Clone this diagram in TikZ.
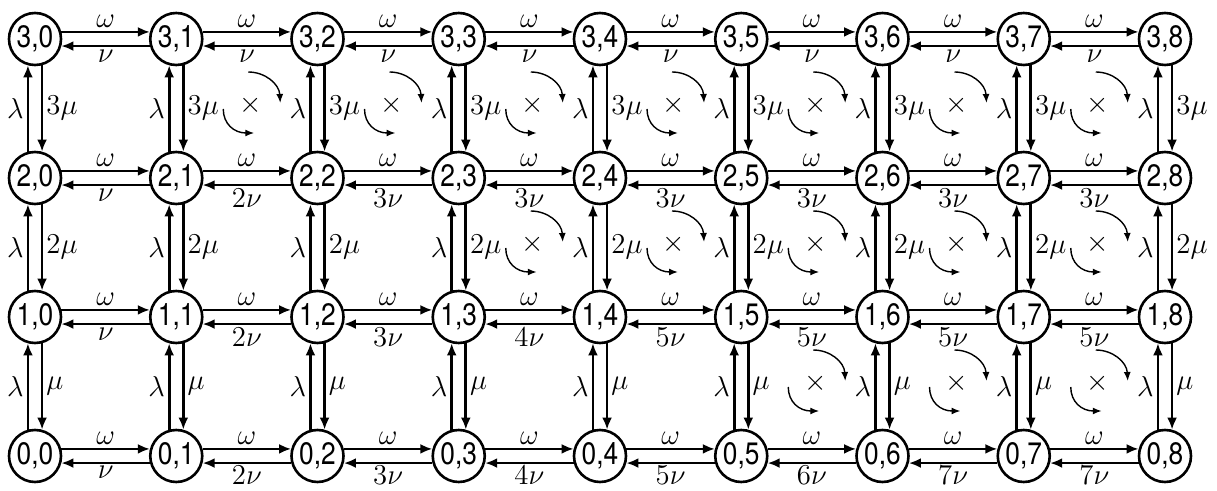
\documentclass[tikz,border=0pt]{standalone}
\usepackage{fontspec}
\newfontfamily\nodefont[FakeStretch=0.85]{TeX Gyre Heros}
\usetikzlibrary{arrows.meta,calc}
\begin{document}
\begin{tikzpicture}[x=0.5pt,y=-0.5pt,
  state/.style={circle,draw,line width=1.3pt,minimum size=26pt,inner sep=0pt,font={\nodefont\fontsize{15.5}{15.5}\selectfont}},
  tr/.style={line width=1.35pt,-{Latex[length=6pt,width=5pt]}},
  lab/.style={font=\Large,inner sep=1.5pt},
  curv/.style={line width=0.7pt,-{Latex[length=4.5pt,width=3.5pt]}},
]
\useasboundingbox (0,0) rectangle (1217,491);
% states
\foreach \i in {0,...,3}{
  \foreach \j in {0,...,8}{
    \node[state] (n\i\j) at ({35+141.25*\j},{456-139*\i}) {\i,\j};
  }
}
% horizontal transitions
\foreach \i/\c/\s in {0/7/0.6pt,1/5/1.5pt,2/3/1.5pt,3/1/1.5pt}{
  \foreach \j [evaluate=\j as \jn using int(\j+1)] in {0,...,7}{
    \pgfmathtruncatemacro\k{min(\j+1,\c)}
    \draw[tr] (n\i\j.15) -- node[lab,above]{$\omega$} (n\i\jn.165);
    \draw[tr] (n\i\jn.195) -- node[lab,below,inner sep=\s]{$\ifnum\k=1 \else\k\fi\nu$} (n\i\j.-15);
  }
}
% vertical transitions
\foreach \i/\m in {0/{},1/2,2/3}{
  \pgfmathtruncatemacro\u{\i+1}
  \foreach \j in {0,...,8}{
    \draw[tr] (n\i\j.105) -- node[lab,left]{$\lambda$} (n\u\j.255);
    \draw[tr] (n\u\j.285) -- node[lab,right]{$\m\mu$} (n\i\j.75);
  }
}
% diagonal (curved) transitions
\foreach \u/\s in {3/1,2/3,1/5}{
  \foreach \j in {\s,...,7}{
    \pgfmathsetmacro\xL{35+141.25*\j}
    \pgfmathsetmacro\yT{456-139*\u}
    \draw[curv] ({\xL+72},{\yT+33}) .. controls ({\xL+89},{\yT+33}) and ({\xL+103},{\yT+45}) .. ({\xL+104},{\yT+64});
    \draw[curv] ({\xL+47},{\yT+70}) .. controls ({\xL+47},{\yT+85}) and ({\xL+58},{\yT+94}) .. ({\xL+78},{\yT+94});
    \node[lab] (x\u\j) at ({\xL+74},{\yT+66}) {$\times$};
  }
}
\end{tikzpicture}
\end{document}
